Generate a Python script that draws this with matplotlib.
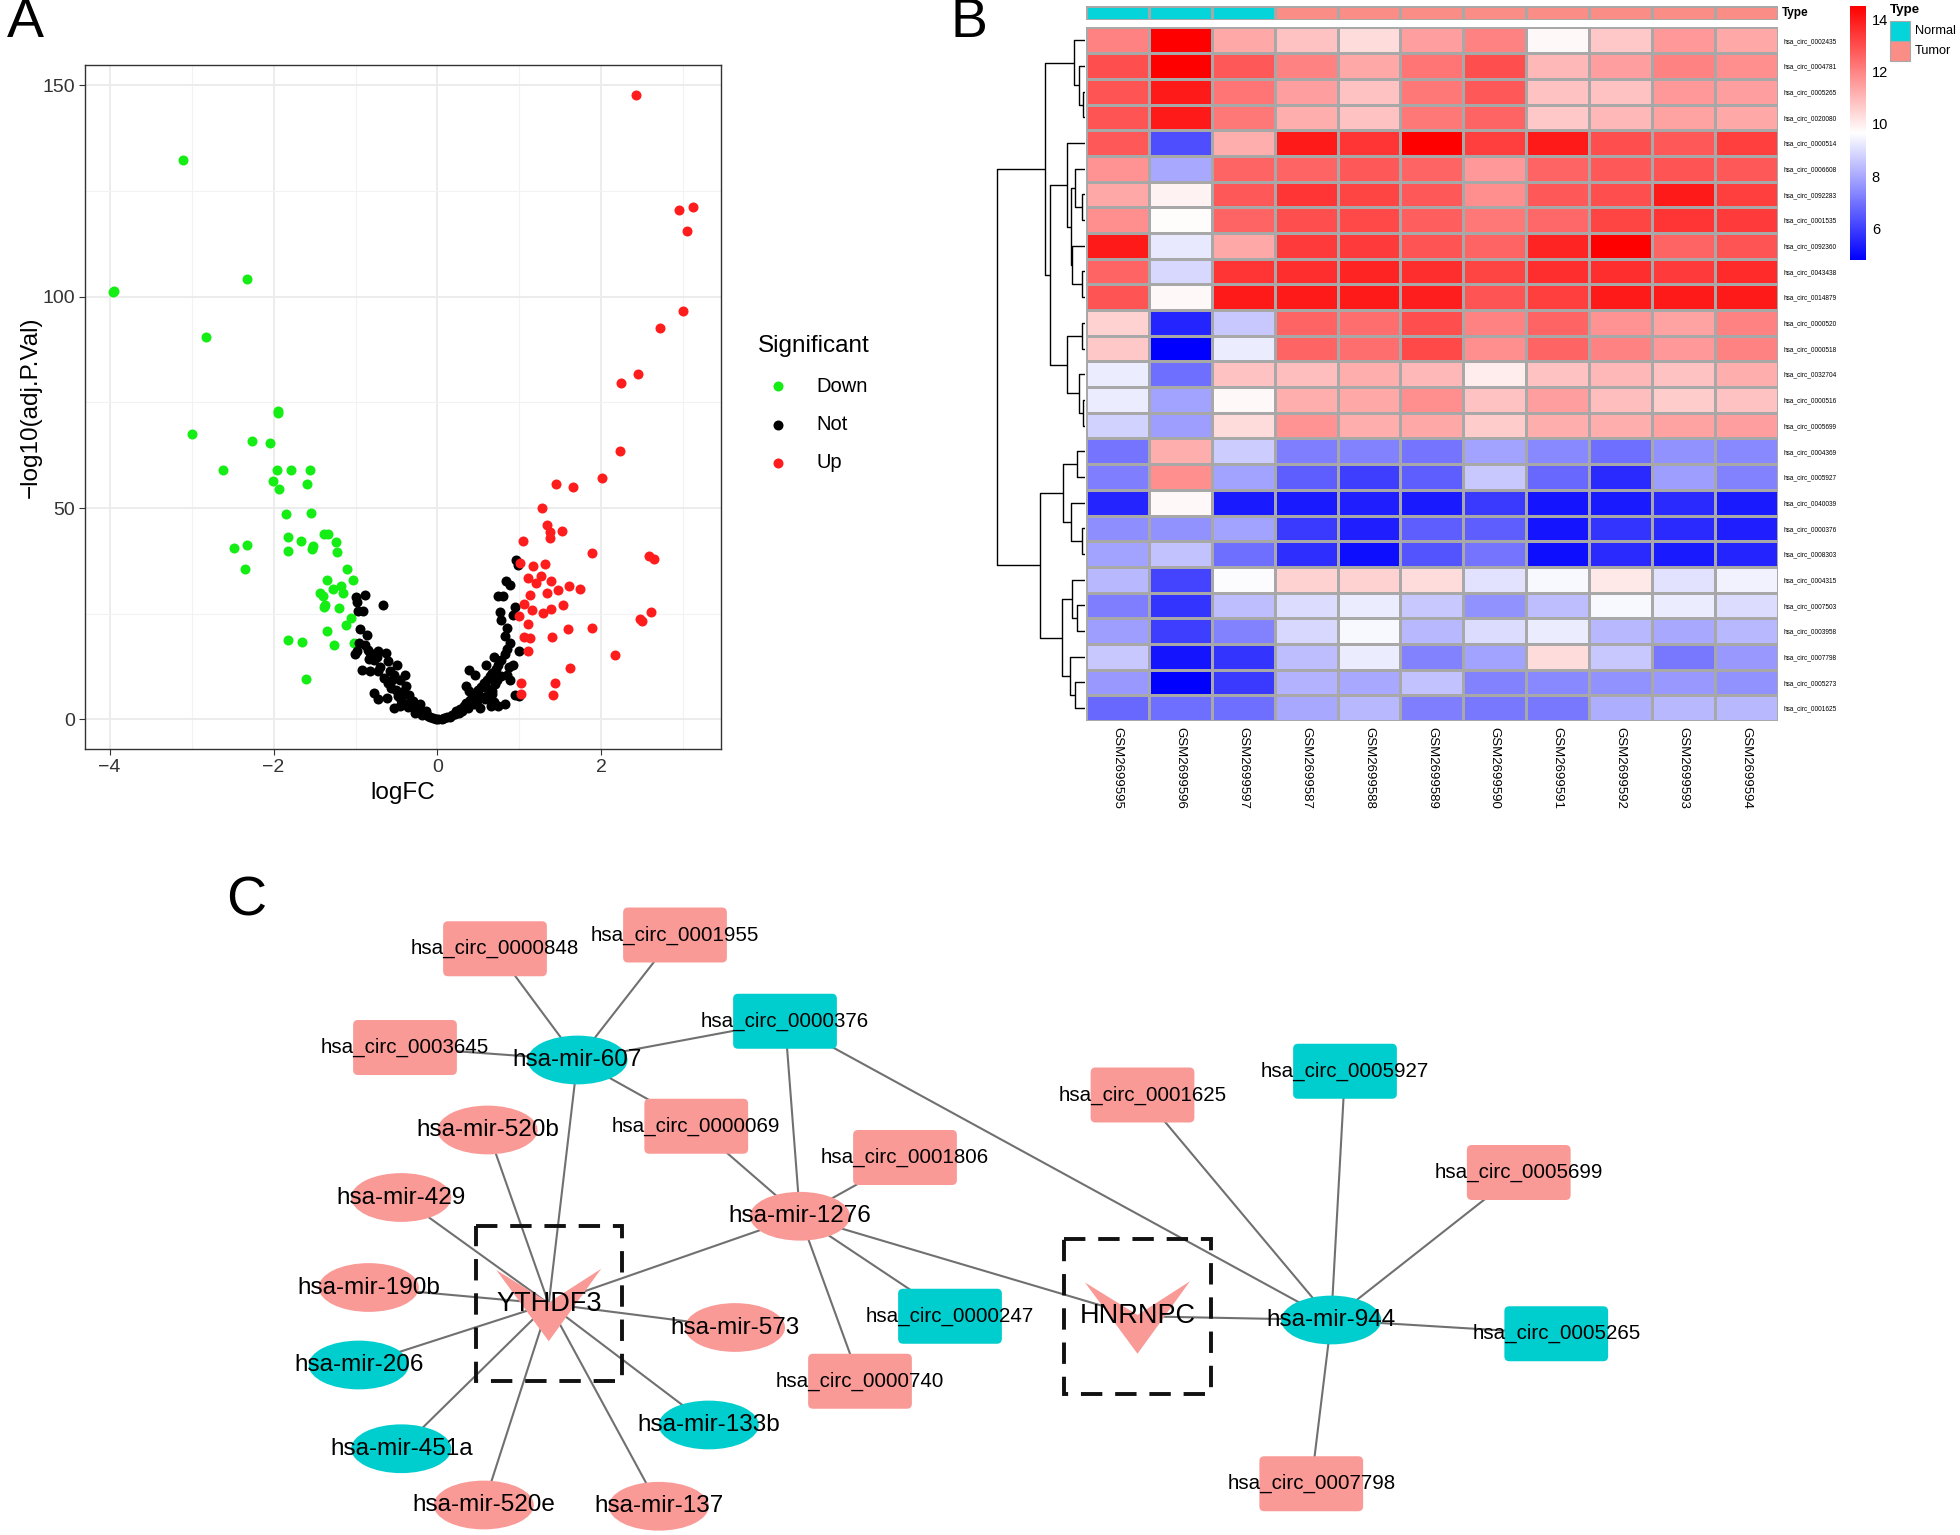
import numpy as np
import matplotlib
matplotlib.use("Agg")
import matplotlib.pyplot as plt
from matplotlib.colors import LinearSegmentedColormap, ListedColormap, Normalize
from matplotlib.cm import ScalarMappable
from matplotlib.patches import Ellipse, FancyBboxPatch, Polygon, Rectangle

plt.rcParams['font.family'] = ['Liberation Sans', 'DejaVu Sans']

# ---------------- A: volcano data ----------------
down_fc = [-3.95, -3.96, -3.11, -2.33, -2.83, -2.99, -1.95, -1.94, -2.26, -2.04,
           -2.62, -1.96, -1.79, -1.56, -2.01, -1.59, -1.93, -1.85, -1.54, -1.82,
           -1.67, -1.52, -1.53, -1.83, -2.48, -2.33, -2.35, -1.38, -1.33, -1.24,
           -1.23, -1.10, -1.03, -1.35, -1.28, -1.18, -1.43, -1.40, -1.15, -1.37,
           -1.20, -1.38, -1.06, -1.12, -1.35, -1.26, -1.82, -1.65, -1.02, -1.60]
down_p = [101.4, 101.0, 132.3, 104.2, 90.4, 67.6, 73.0, 72.6, 65.8, 65.4,
          58.9, 58.9, 59.0, 58.9, 56.3, 55.6, 54.4, 48.6, 48.8, 43.2,
          42.2, 41.0, 40.3, 39.8, 40.6, 41.2, 35.6, 43.8, 43.8, 41.9,
          39.6, 35.7, 33.0, 33.0, 30.9, 31.5, 30.0, 29.1, 29.9, 27.0,
          26.3, 26.6, 24.1, 22.3, 21.0, 17.6, 18.8, 18.4, 18.2, 9.6]

up_fc = [2.42, 2.95, 3.12, 3.04, 2.99, 2.72, 2.45, 2.24, 2.23, 2.01,
         1.44, 1.65, 1.27, 1.34, 1.52, 1.37, 1.37, 1.04, 1.89, 2.58,
         2.64, 1.31, 1.01, 1.17, 1.26, 1.11, 1.39, 1.20, 1.61, 1.74,
         1.47, 1.33, 1.13, 1.06, 1.53, 1.38, 1.15, 1.29, 2.60, 0.99,
         2.47, 2.50, 1.10, 1.59, 1.89, 1.06, 1.13, 1.40, 1.10, 2.16,
         1.62, 1.02, 1.43, 1.02, 1.41]
up_p = [147.6, 120.4, 121.2, 115.5, 96.7, 92.5, 81.6, 79.5, 63.4, 57.0,
        55.8, 54.9, 50.1, 45.9, 44.6, 44.4, 43.0, 42.3, 39.3, 38.6,
        38.0, 36.8, 37.1, 36.2, 34.0, 33.4, 32.8, 32.2, 31.5, 30.8,
        30.7, 29.8, 29.4, 27.2, 27.0, 26.2, 25.8, 25.3, 25.5, 24.5,
        23.7, 23.4, 22.5, 21.5, 21.6, 19.4, 19.2, 19.5, 16.3, 15.3,
        12.1, 8.7, 8.7, 6.1, 5.8]

not_fc = [-0.99, -0.88, -0.98, -0.97, -0.91, -0.67, -0.94, -0.96, -0.89, -0.98,
          -1.01, -0.85, -0.82, -0.72, -0.63, -0.74, -0.83, -0.77, -0.60, -0.92,
          -0.82, -0.72, -0.58, -0.53, -0.55, -0.46, -0.39, -0.78, -0.73, -0.51,
          -0.48, -0.43, -0.35, -0.53, -0.46, -0.38, -0.32, -0.30, -0.25, -0.21,
          -0.16, -0.11, -0.06, -0.02, -0.40, -0.60, -0.21, -0.14, -0.86, -0.70,
          -0.65, -0.57, -0.44, -0.36, -0.28, -0.19, -0.09, -0.27, -0.50, -0.62,
          0.01, 0.05, 0.11, 0.18, 0.23, 0.27, 0.32, 0.35, 0.40, 0.43,
          0.46, 0.50, 0.39, 0.53, 0.57, 0.60, 0.64, 0.67, 0.71, 0.74,
          0.78, 0.82, 0.85, 0.89, 0.82, 0.85, 0.78, 0.76, 0.80, 0.74,
          0.83, 0.89, 0.96, 0.98, 0.92, 0.94, 0.99, 0.92, 0.69, 0.59,
          0.65, 0.69, 0.74, 0.82, 0.52, 0.94, 0.99, 0.60, 0.67, 0.85,
          0.46, 0.35, 0.39, 0.73, 0.89, 0.15, 0.21, 0.30, 0.37, 0.44,
          0.48, 0.55, 0.62, 0.70, 0.77, 0.87, 0.58, 0.66, 0.08, 0.26]
not_p = [29.0, 29.4, 27.8, 25.7, 25.6, 27.0, 21.3, 18.2, 17.7, 16.1,
         15.5, 16.4, 15.8, 16.3, 15.8, 14.8, 14.2, 14.0, 13.8, 11.7,
         11.5, 11.5, 11.4, 10.5, 9.3, 9.3, 8.0, 6.2, 4.9, 7.0,
         5.6, 6.6, 5.8, 2.7, 3.3, 3.7, 3.1, 4.3, 2.5, 1.9,
         1.2, 0.9, 0.4, 0.0, 10.5, 8.7, 3.7, 2.1, 20.0, 12.5,
         9.8, 7.5, 4.5, 2.9, 1.6, 1.0, 0.5, 3.0, 12.8, 5.0,
         0.0, 0.2, 0.6, 1.1, 1.9, 2.5, 3.3, 4.0, 4.7, 5.6,
         6.2, 7.0, 6.8, 7.8, 8.7, 9.3, 10.3, 11.1, 12.0, 13.0,
         14.0, 15.5, 16.7, 18.2, 19.8, 21.6, 23.5, 25.4, 29.1, 29.1,
         32.8, 31.8, 37.7, 36.5, 24.7, 26.6, 16.1, 13.0, 14.8, 13.0,
         3.1, 4.1, 3.3, 3.7, 2.8, 5.8, 5.6, 5.6, 6.8, 10.5,
         10.5, 8.0, 11.7, 9.3, 9.3, 0.5, 1.2, 2.0, 2.6, 3.6,
         4.4, 5.2, 7.2, 8.4, 10.2, 12.4, 4.9, 6.0, 0.3, 1.5]

# ---------------- B: heatmap data ----------------
samples = ["GSM2699595", "GSM2699596", "GSM2699597", "GSM2699587", "GSM2699588",
           "GSM2699589", "GSM2699590", "GSM2699591", "GSM2699592", "GSM2699593",
           "GSM2699594"]
sample_type = ["Normal", "Normal", "Normal", "Tumor", "Tumor", "Tumor", "Tumor",
               "Tumor", "Tumor", "Tumor", "Tumor"]
circ_ids = ["hsa_circ_0002435", "hsa_circ_0004781", "hsa_circ_0005265", "hsa_circ_0020080",
            "hsa_circ_0000514", "hsa_circ_0006608", "hsa_circ_0092283", "hsa_circ_0001535",
            "hsa_circ_0092360", "hsa_circ_0043438", "hsa_circ_0014879", "hsa_circ_0000520",
            "hsa_circ_0000518", "hsa_circ_0032704", "hsa_circ_0000516", "hsa_circ_0005699",
            "hsa_circ_0004369", "hsa_circ_0005927", "hsa_circ_0040039", "hsa_circ_0000376",
            "hsa_circ_0008303", "hsa_circ_0004315", "hsa_circ_0007503", "hsa_circ_0003958",
            "hsa_circ_0007798", "hsa_circ_0005273", "hsa_circ_0001625"]
expr = [
    [12.0, 14.5, 11.3, 10.8, 10.3, 11.5, 12.0, 9.8, 10.7, 11.6, 11.3],
    [13.0, 14.5, 12.8, 12.0, 11.3, 12.3, 13.0, 11.0, 11.5, 12.0, 11.8],
    [12.9, 14.0, 12.3, 11.5, 10.8, 12.2, 12.8, 10.8, 10.8, 11.6, 11.5],
    [12.9, 14.0, 12.2, 11.2, 10.8, 12.2, 12.6, 10.7, 11.0, 11.4, 11.3],
    [12.8, 6.3, 11.2, 14.0, 13.5, 14.5, 13.3, 14.0, 13.0, 12.8, 13.3],
    [11.7, 8.0, 12.6, 12.6, 12.8, 12.6, 11.6, 12.6, 12.8, 12.9, 12.8],
    [11.3, 9.9, 12.8, 13.5, 13.2, 12.8, 11.8, 12.8, 13.0, 14.0, 13.3],
    [11.8, 9.7, 12.6, 13.0, 13.1, 12.7, 12.2, 12.5, 13.2, 13.5, 13.4],
    [14.0, 9.2, 11.3, 13.4, 13.4, 12.9, 12.6, 13.8, 14.5, 12.6, 12.9],
    [12.6, 8.9, 13.5, 13.6, 13.8, 13.6, 13.2, 13.6, 13.6, 13.4, 13.7],
    [12.9, 9.8, 14.0, 14.0, 14.0, 13.9, 12.9, 13.3, 14.0, 14.0, 14.0],
    [10.5, 5.5, 8.6, 12.6, 12.4, 13.0, 12.0, 12.6, 11.7, 11.4, 12.0],
    [10.7, 4.8, 9.3, 12.6, 12.4, 13.1, 11.8, 12.6, 12.0, 11.6, 12.0],
    [9.3, 6.9, 10.8, 10.9, 11.2, 11.0, 10.0, 10.8, 11.0, 10.8, 11.2],
    [9.3, 7.9, 9.8, 11.2, 11.3, 11.8, 10.8, 11.5, 10.9, 10.6, 10.8],
    [8.8, 7.8, 10.3, 11.7, 11.2, 11.3, 10.6, 11.2, 11.2, 11.4, 11.5],
    [7.0, 11.2, 8.7, 7.2, 7.3, 7.0, 7.9, 7.4, 6.9, 7.6, 7.4],
    [7.2, 11.8, 7.9, 6.6, 6.0, 6.6, 8.6, 6.8, 5.6, 7.8, 7.3],
    [5.5, 9.8, 5.3, 5.3, 5.4, 5.3, 5.9, 5.2, 5.3, 5.6, 5.3],
    [7.5, 7.6, 7.9, 5.9, 5.4, 6.6, 6.6, 5.2, 5.8, 5.6, 5.4],
    [7.9, 8.5, 6.9, 5.7, 5.1, 6.4, 7.0, 5.1, 5.6, 5.3, 5.5],
    [8.3, 6.1, 9.6, 10.5, 10.5, 10.3, 9.1, 9.5, 10.1, 9.1, 9.4],
    [7.2, 5.8, 8.4, 9.0, 9.3, 8.6, 7.6, 8.4, 9.5, 9.3, 9.0],
    [7.8, 6.0, 7.3, 8.9, 9.5, 8.3, 9.0, 9.3, 8.3, 8.0, 8.3],
    [8.6, 5.2, 5.8, 8.4, 9.3, 7.3, 7.9, 10.3, 8.6, 7.1, 7.7],
    [7.7, 4.8, 5.9, 8.2, 8.0, 8.5, 7.3, 7.4, 7.6, 7.7, 7.6],
    [6.8, 6.9, 6.9, 8.0, 8.3, 7.2, 7.1, 7.1, 8.1, 8.3, 8.3],
]
# row dendrogram: (left, right, merge height), leaves are row indices
row_tree = (
    ((0, (1, (2, 3, 4), 12), 22),
     ((4, ((5, (6, 7, 7), 20), (8, (9, 10, 7), 25), 28), 35),
      ((11, 12, 7), (13, (14, 15, 5), 12), 35), 70), 80),
    (((16, 17, 15), (18, (19, 20, 7), 27), 43),
     ((21, (22, 23, 15), 25), (24, (25, 26, 20), 30), 45), 90),
    175)

# ---------------- C: network data ----------------
node_kind = {
    "hsa_circ_0000848": ("circ", "up"), "hsa_circ_0001955": ("circ", "up"),
    "hsa_circ_0003645": ("circ", "up"), "hsa_circ_0000376": ("circ", "down"),
    "hsa_circ_0000069": ("circ", "up"), "hsa_circ_0001806": ("circ", "up"),
    "hsa_circ_0001625": ("circ", "up"), "hsa_circ_0005927": ("circ", "down"),
    "hsa_circ_0005699": ("circ", "up"), "hsa_circ_0000247": ("circ", "down"),
    "hsa_circ_0000740": ("circ", "up"), "hsa_circ_0005265": ("circ", "down"),
    "hsa_circ_0007798": ("circ", "up"),
    "hsa-mir-607": ("mir", "down"), "hsa-mir-520b": ("mir", "up"),
    "hsa-mir-429": ("mir", "up"), "hsa-mir-1276": ("mir", "up"),
    "hsa-mir-190b": ("mir", "up"), "hsa-mir-573": ("mir", "up"),
    "hsa-mir-206": ("mir", "down"), "hsa-mir-133b": ("mir", "down"),
    "hsa-mir-451a": ("mir", "down"), "hsa-mir-520e": ("mir", "up"),
    "hsa-mir-137": ("mir", "up"), "hsa-mir-944": ("mir", "down"),
    "YTHDF3": ("gene", "up"), "HNRNPC": ("gene", "up"),
}
edges = [
    ("YTHDF3", "hsa-mir-520b"), ("YTHDF3", "hsa-mir-429"), ("YTHDF3", "hsa-mir-190b"),
    ("YTHDF3", "hsa-mir-206"), ("YTHDF3", "hsa-mir-451a"), ("YTHDF3", "hsa-mir-520e"),
    ("YTHDF3", "hsa-mir-137"), ("YTHDF3", "hsa-mir-133b"), ("YTHDF3", "hsa-mir-573"),
    ("YTHDF3", "hsa-mir-1276"), ("YTHDF3", "hsa-mir-607"),
    ("hsa-mir-607", "hsa_circ_0000848"), ("hsa-mir-607", "hsa_circ_0001955"),
    ("hsa-mir-607", "hsa_circ_0003645"), ("hsa-mir-607", "hsa_circ_0000376"),
    ("hsa-mir-607", "hsa_circ_0000069"),
    ("hsa-mir-1276", "hsa_circ_0000069"), ("hsa-mir-1276", "hsa_circ_0001806"),
    ("hsa-mir-1276", "hsa_circ_0000740"), ("hsa-mir-1276", "hsa_circ_0000247"),
    ("hsa-mir-1276", "hsa_circ_0000376"), ("hsa-mir-1276", "HNRNPC"),
    ("hsa-mir-944", "hsa_circ_0000376"), ("hsa-mir-944", "hsa_circ_0001625"),
    ("hsa-mir-944", "hsa_circ_0005927"), ("hsa-mir-944", "hsa_circ_0005699"),
    ("hsa-mir-944", "hsa_circ_0005265"), ("hsa-mir-944", "hsa_circ_0007798"),
    ("hsa-mir-944", "HNRNPC"),
]
# layout of the network (pixel grid of the panel)
layout = {
    "hsa_circ_0000848": (396, 759), "hsa_circ_0001955": (540, 748),
    "hsa_circ_0003645": (324, 838), "hsa_circ_0000376": (628, 817),
    "hsa_circ_0000069": (557, 901), "hsa_circ_0001806": (724, 926),
    "hsa_circ_0001625": (914, 876), "hsa_circ_0005927": (1076, 857),
    "hsa_circ_0005699": (1215, 938), "hsa_circ_0000247": (760, 1053),
    "hsa_circ_0000740": (688, 1105), "hsa_circ_0005265": (1245, 1067),
    "hsa_circ_0007798": (1049, 1187),
    "hsa-mir-607": (462, 848), "hsa-mir-520b": (390, 904), "hsa-mir-429": (321, 958),
    "hsa-mir-1276": (640, 973), "hsa-mir-190b": (295, 1030), "hsa-mir-573": (588, 1062),
    "hsa-mir-206": (287, 1092), "hsa-mir-133b": (567, 1140), "hsa-mir-451a": (321, 1159),
    "hsa-mir-520e": (387, 1204), "hsa-mir-137": (527, 1205), "hsa-mir-944": (1065, 1056),
    "YTHDF3": (439, 1043), "HNRNPC": (910, 1053),
}

COL_UP = "#F99A97"
COL_DOWN = "#00CDCD"

fig = plt.figure(figsize=(19.6, 15.35), dpi=100)

# ================= A: volcano =================
ax_v = fig.add_axes([0.0434, 0.512, 0.3245, 0.4457])
ax_v.set_facecolor("white")
ax_v.set_xlim(-4.3, 3.46)
ax_v.set_ylim(-7, 154.8)
ax_v.set_xticks([-4, -2, 0, 2])
ax_v.set_xticklabels(["\u22124", "\u22122", "0", "2"])
ax_v.set_yticks([0, 50, 100, 150])
ax_v.set_xticks([-3, -1, 1, 3], minor=True)
ax_v.set_yticks([25, 75, 125], minor=True)
ax_v.grid(which="major", color="#EBEBEB", lw=1.3)
ax_v.grid(which="minor", color="#F2F2F2", lw=0.8)
ax_v.set_axisbelow(True)
ax_v.tick_params(which="major", labelsize=14, colors="#333333", length=4, width=0.8)
ax_v.tick_params(which="minor", length=0)
for s in ax_v.spines.values():
    s.set_color("#333333")
    s.set_linewidth(1.0)
h_down = ax_v.scatter(down_fc, down_p, s=52, color="#14EE14", lw=0, label="Down")
h_not = ax_v.scatter(not_fc, not_p, s=52, color="black", lw=0, label="Not")
h_up = ax_v.scatter(up_fc, up_p, s=52, color="#FF1C1C", lw=0, label="Up")
ax_v.set_xlabel("logFC", fontsize=17.5, labelpad=4)
ax_v.set_ylabel("\u2212log10(adj.P.Val)", fontsize=17.5, labelpad=0)
leg = ax_v.legend(handles=[h_down, h_not, h_up], title="Significant",
                  loc="center left", bbox_to_anchor=(1.03, 0.505), frameon=False,
                  fontsize=14.5, title_fontsize=17.5, alignment="left",
                  handletextpad=0.9, labelspacing=0.95, markerscale=1.0)
leg._legend_box.sep = 14

# ================= B: heatmap =================
vals = np.array(expr)
nrow, ncol = vals.shape
cmap = LinearSegmentedColormap.from_list("bwr_p", ["#0000FF", "#FFFFFF", "#FF0000"])
norm = Normalize(vmin=4.8, vmax=14.5)

ax_h = fig.add_axes([0.554, 0.5303, 0.3531, 0.4518])
ax_h.pcolormesh(np.arange(ncol + 1), np.arange(nrow + 1), vals, cmap=cmap, norm=norm,
                edgecolors="#A8A8A8", linewidth=0.9)
ax_h.set_xlim(0, ncol)
ax_h.set_ylim(nrow, 0)
for s in ax_h.spines.values():
    s.set_visible(False)
ax_h.yaxis.tick_right()
ax_h.set_yticks(np.arange(nrow) + 0.5)
ax_h.set_yticklabels(circ_ids, fontsize=4.7)
ax_h.set_xticks(np.arange(ncol) + 0.5)
ax_h.set_xticklabels(samples, rotation=270, fontsize=9.5, va="top", ha="center")
ax_h.tick_params(length=0, pad=4)

# annotation bar
ax_a = fig.add_axes([0.554, 0.9870, 0.3531, 0.0091])
type_code = [0 if t == "Normal" else 1 for t in sample_type]
ann_cmap = ListedColormap(["#05D5DA", "#FA8E86"])
ax_a.pcolormesh(np.arange(ncol + 1), [0, 1], [type_code], cmap=ann_cmap, vmin=0, vmax=1,
                edgecolors="#A8A8A8", linewidth=0.9)
ax_a.set_xlim(0, ncol)
ax_a.set_ylim(0, 1)
ax_a.axis("off")
ax_a.text(1.006, 0.5, "Type", transform=ax_a.transAxes, fontsize=8.5,
          fontweight="bold", va="center", ha="left")

# row dendrogram
ax_d = fig.add_axes([0.5082, 0.5303, 0.0454, 0.4518])
ax_d.axis("off")


def draw_tree(node):
    if isinstance(node, int):
        return node + 0.5, 0.0
    left, right, h = node
    yl, hl = draw_tree(left)
    yr, hr = draw_tree(right)
    ax_d.plot([hl, h, h, hr], [yl, yl, yr, yr], color="black", lw=1.0,
              solid_capstyle="butt")
    return (yl + yr) / 2, h


root_y, root_h = draw_tree(row_tree)
ax_d.set_xlim(root_h * 1.005, 0)
ax_d.set_ylim(nrow, 0)

# colorbar
ax_cb = fig.add_axes([0.9440, 0.8306, 0.0082, 0.1655])
cb = fig.colorbar(ScalarMappable(norm=norm, cmap=cmap), cax=ax_cb, ticks=[6, 8, 10, 12, 14])
cb.outline.set_visible(False)
ax_cb.tick_params(length=0, labelsize=10.5, pad=4)

# ================= overlay in pixel grid (legend of B + network C) =================
ax_c = fig.add_axes([0, 0, 1, 1])
ax_c.set_xlim(0, 1568)
ax_c.set_ylim(1228, 0)
ax_c.axis("off")
ax_c.patch.set_alpha(0)

# Type legend of heatmap
ax_c.text(1512, 8, "Type", fontsize=9.6, fontweight="bold", va="center", ha="left")
for i, (lab, col) in enumerate([("Normal", "#05D5DA"), ("Tumor", "#FA8E86")]):
    ax_c.add_patch(Rectangle((1512, 17 + i * 16), 16, 16, facecolor=col,
                             edgecolor="#A8A8A8", lw=0.8))
    ax_c.text(1532, 25 + i * 16, lab, fontsize=9.2, va="center", ha="left")

# edges
for a, b in edges:
    xa, ya = layout[a]
    xb, yb = layout[b]
    ax_c.plot([xa, xb], [ya, yb], color="#707070", lw=1.5, zorder=1)

# nodes
for name, (kind, reg) in node_kind.items():
    x, y = layout[name]
    col = COL_UP if reg == "up" else COL_DOWN
    if kind == "circ":
        w, h = 83, 44
        ax_c.add_patch(FancyBboxPatch((x - w / 2 + 4, y - h / 2 + 4), w - 8, h - 8,
                                      boxstyle="round,pad=4", facecolor=col,
                                      edgecolor="none", zorder=2))
        ax_c.text(x, y, name, fontsize=14.8, ha="center", va="center", zorder=4)
    elif kind == "mir":
        ax_c.add_patch(Ellipse((x, y), 80, 39, facecolor=col, edgecolor="none", zorder=2))
        ax_c.text(x, y, name, fontsize=17.5, ha="center", va="center", zorder=4)
    else:
        shape = np.array([[-42, -27], [0, -1], [42, -28], [0, 30]]) + [x, y]
        ax_c.add_patch(Polygon(shape, closed=True, facecolor=col, edgecolor="none",
                               zorder=2))
        ax_c.text(x, y, name, fontsize=19.5, ha="center", va="center", zorder=4)
        ax_c.add_patch(Rectangle((x - 58.5, y - 62), 117, 124, fill=False,
                                 edgecolor="#111111", lw=2.8,
                                 linestyle=(0, (5.5, 3.3)), zorder=3))

# panel letters
fig.text(0.0128, 0.985, "A", fontsize=40, ha="center", va="center")
fig.text(0.4945, 0.985, "B", fontsize=40, ha="center", va="center")
fig.text(0.1258, 0.4124, "C", fontsize=40, ha="center", va="center")

fig.savefig("out.png", dpi=100, facecolor="white")
